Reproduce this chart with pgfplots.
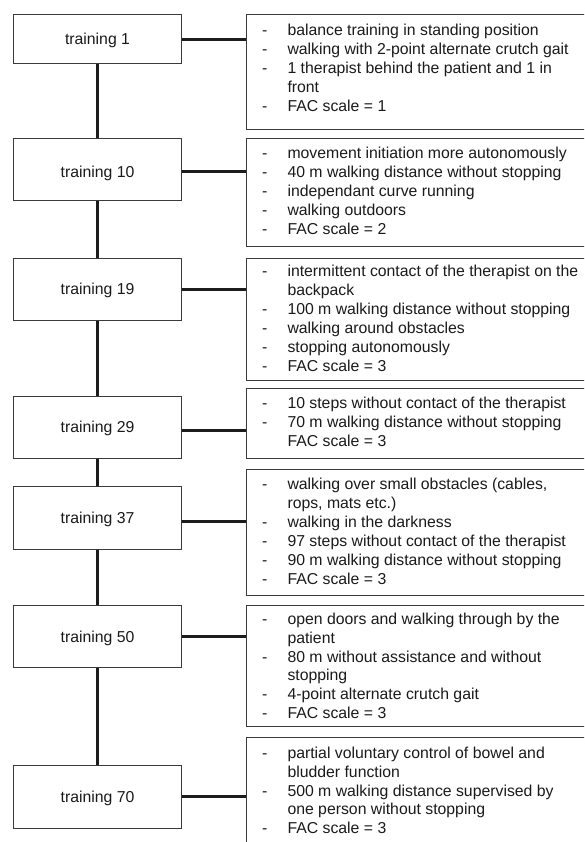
\documentclass[border=0pt]{standalone}
\usepackage{pgfplots}
\pgfplotsset{compat=1.18}
\usepackage{fontspec}
\setmainfont{Liberation Sans}
\definecolor{boxline}{HTML}{3A3A3A}
\definecolor{conn}{HTML}{1C1C1C}
\definecolor{txt}{HTML}{1A1A1A}
\newcommand{\dl}[2]{% dash line: baseline y, text
  \node[anchor=base west,inner sep=0pt,text=txt] at (axis cs:262,#1) {-};
  \node[anchor=base west,inner sep=0pt,text=txt] at (axis cs:287.3,#1) {#2};}
\newcommand{\cl}[2]{% continuation line
  \node[anchor=base west,inner sep=0pt,text=txt] at (axis cs:287.3,#1) {#2};}
\newcommand{\lb}[2]{% left label: baseline y, text
  \node[anchor=base,inner sep=0pt,text=txt] at (axis cs:97.5,#1) {#2};}
\begin{document}
\fontsize{15.8}{18.9}\selectfont
\begin{tikzpicture}
\begin{axis}[
  width=584pt, height=842pt, scale only axis,
  xmin=0, xmax=584, ymin=0, ymax=842, y dir=reverse,
  hide axis, clip=true,
]
% vertical spine
\addplot[line width=3pt, color=conn] coordinates {(97.7,63) (97.7,766)};
% horizontal connectors
\addplot[line width=3pt, color=conn] coordinates {(181.7,39.3) (246.7,39.3)};
\addplot[line width=3pt, color=conn] coordinates {(181.7,171.7) (246.7,171.7)};
\addplot[line width=3pt, color=conn] coordinates {(181.7,289) (246.7,289)};
\addplot[line width=3pt, color=conn] coordinates {(181.7,430) (246.7,430)};
\addplot[line width=3pt, color=conn] coordinates {(181.7,521.3) (246.7,521.3)};
\addplot[line width=3pt, color=conn] coordinates {(181.7,636) (246.7,636)};
\addplot[line width=3pt, color=conn] coordinates {(181.7,796) (246.7,796)};
% left boxes
\addplot[line width=1pt, color=boxline, fill=white] coordinates {(13.3,14.7) (181.7,14.7) (181.7,63.3) (13.3,63.3)} --cycle;
\addplot[line width=1pt, color=boxline, fill=white] coordinates {(13.3,138.3) (181.7,138.3) (181.7,200.7) (13.3,200.7)} --cycle;
\addplot[line width=1pt, color=boxline, fill=white] coordinates {(13.3,258.3) (181.7,258.3) (181.7,320.7) (13.3,320.7)} --cycle;
\addplot[line width=1pt, color=boxline, fill=white] coordinates {(13.3,396) (181.7,396) (181.7,458.7) (13.3,458.7)} --cycle;
\addplot[line width=1pt, color=boxline, fill=white] coordinates {(13.3,486.7) (181.7,486.7) (181.7,549.3) (13.3,549.3)} --cycle;
\addplot[line width=1pt, color=boxline, fill=white] coordinates {(13.3,605.7) (181.7,605.7) (181.7,667.3) (13.3,667.3)} --cycle;
\addplot[line width=1pt, color=boxline, fill=white] coordinates {(13.3,765.7) (181.7,765.7) (181.7,828) (13.3,828)} --cycle;
% right boxes
\addplot[line width=1pt, color=boxline] coordinates {(246.7,14.7) (600,14.7) (600,130) (246.7,130)} --cycle;
\addplot[line width=1pt, color=boxline] coordinates {(246.7,138.3) (600,138.3) (600,246) (246.7,246)} --cycle;
\addplot[line width=1pt, color=boxline] coordinates {(246.7,258.3) (600,258.3) (600,380.7) (246.7,380.7)} --cycle;
\addplot[line width=1pt, color=boxline] coordinates {(246.7,388.3) (600,388.3) (600,458.7) (246.7,458.7)} --cycle;
\addplot[line width=1pt, color=boxline] coordinates {(246.7,469.3) (600,469.3) (600,595.7) (246.7,595.7)} --cycle;
\addplot[line width=1pt, color=boxline] coordinates {(246.7,605.7) (600,605.7) (600,726) (246.7,726)} --cycle;
\addplot[line width=1pt, color=boxline] coordinates {(246.7,860) (246.7,737.7) (600,737.7) (600,860)};
% left labels
\lb{44.8}{training 1}
\lb{177.2}{training 10}
\lb{294.5}{training 19}
\lb{432.5}{training 29}
\lb{523.5}{training 37}
\lb{642}{training 50}
\lb{802}{training 70}
% box 1
\dl{35.5}{balance training in standing position}
\dl{54.4}{walking with 2-point alternate crutch gait}
\dl{73.3}{1 therapist behind the patient and 1 in}
\cl{92.2}{front}
\dl{111.1}{FAC scale = 1}
% box 2
\dl{158.8}{movement initiation more autonomously}
\dl{177.7}{40 m walking distance without stopping}
\dl{196.6}{independant curve running}
\dl{215.5}{walking outdoors}
\dl{234.4}{FAC scale = 2}
% box 3
\dl{276.5}{intermittent contact of the therapist on the}
\cl{295.4}{backpack}
\dl{314.3}{100 m walking distance without stopping}
\dl{333.2}{walking around obstacles}
\dl{352.1}{stopping autonomously}
\dl{371}{FAC scale = 3}
% box 4
\dl{408.8}{10 steps without contact of the therapist}
\dl{427.7}{70 m walking distance without stopping}
\cl{446.6}{FAC scale = 3}
% box 5
\dl{489.8}{walking over small obstacles (cables,}
\cl{508.7}{rops, mats etc.)}
\dl{527.6}{walking in the darkness}
\dl{546.5}{97 steps without contact of the therapist}
\dl{565.4}{90 m walking distance without stopping}
\dl{584.3}{FAC scale = 3}
% box 6
\dl{624.2}{open doors and walking through by the}
\cl{643.1}{patient}
\dl{662}{80 m without assistance and without}
\cl{680.9}{stopping}
\dl{699.8}{4-point alternate crutch gait}
\dl{718.7}{FAC scale = 3}
% box 7
\dl{758.2}{partial voluntary control of bowel and}
\cl{777.1}{bludder function}
\dl{796}{500 m walking distance supervised by}
\cl{814.9}{one person without stopping}
\dl{833.8}{FAC scale = 3}
\end{axis}
\pgfresetboundingbox
\useasboundingbox (current axis.south west) rectangle (current axis.north east);
\end{tikzpicture}
\end{document}
